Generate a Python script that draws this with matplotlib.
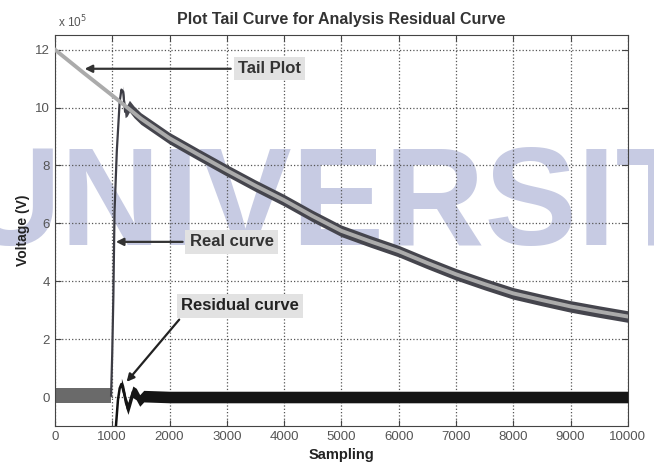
import numpy as np
import matplotlib.pyplot as plt

# values in units of 1e5 V
tail_x = [0, 500, 1000, 1500, 2000, 2500, 3000, 3500, 4000, 4500, 5000,
          5500, 6000, 6500, 7000, 7500, 8000, 8500, 9000, 9500, 10000]
tail_y = [12.0, 11.2, 10.42, 9.62, 8.94, 8.38, 7.83, 7.3, 6.8, 6.25, 5.74,
          5.38, 5.04, 4.63, 4.24, 3.9, 3.58, 3.35, 3.13, 2.95, 2.78]

# real curve: flat noise before the pulse, sharp rise, then decay
pre_x = [0, 500, 980]
pre_y = [0.05, 0.05, 0.05]
real_x = [980, 1000, 1020, 1040, 1080, 1130, 1160, 1190, 1225, 1260, 1300,
          1380, 1500, 2000, 2500, 3000, 3500, 4000, 4500, 5000, 5500, 6000,
          6500, 7000, 7500, 8000, 8500, 9000, 9500, 10000]
real_y = [0.05, 1.5, 3.5, 6.4, 8.5, 10.2, 10.62, 10.55, 9.85, 9.9, 10.05,
          9.85, 9.62, 8.94, 8.38, 7.83, 7.3, 6.8, 6.25, 5.74, 5.38, 5.04,
          4.63, 4.24, 3.9, 3.58, 3.35, 3.13, 2.95, 2.78]

resid_x = [1000, 1040, 1065, 1100, 1130, 1160, 1200, 1240, 1275, 1320, 1360,
           1420, 1480, 1550, 2000, 4000, 6000, 8000, 10000]
resid_y = [-10.4, -4.0, -1.0, -0.1, 0.3, 0.45, 0.2, -0.2, -0.4, -0.1, 0.18,
           0.1, -0.12, 0.03, 0.0, 0.0, 0.0, 0.0, 0.0]

# half width of the noise band around each curve
noise_pre = 0.25
noise_real = 0.2
noise_resid = 0.2

xticks = np.arange(0, 10001, 1000)
yticks = [0, 2, 4, 6, 8, 10, 12]

plt.rcParams['font.family'] = ['Liberation Sans', 'DejaVu Sans']

fig = plt.figure(figsize=(6.54, 4.63), dpi=100, facecolor='white')
ax = fig.add_axes([0.084, 0.080, 0.876, 0.844])
ax.patch.set_facecolor('none')

# faint watermark behind the plot
fig.text(-0.06, 0.471, 'UNIVERSITAS', fontsize=100, fontweight='bold',
         family=['Liberation Sans Narrow', 'Liberation Sans'], fontstretch='condensed',
         color='#c7cbe3', zorder=-1, va='baseline', ha='left')

pre_y = np.array(pre_y)
real_y = np.array(real_y)
resid_y = np.array(resid_y)

ax.fill_between(pre_x, pre_y - noise_pre, pre_y + noise_pre, color='#6a6a6a', lw=0, zorder=2)
ax.plot(pre_x, pre_y, color='#6a6a6a', lw=1, zorder=2)

ax.plot(real_x, real_y, color='#3c3c44', lw=1.6, zorder=3)
ax.fill_between(real_x[7:], real_y[7:] - noise_real, real_y[7:] + noise_real,
                color='#45454d', lw=0, zorder=3)

ax.plot(resid_x, resid_y, color='#111111', lw=1.8, zorder=4)
ax.fill_between(resid_x[5:], resid_y[5:] - noise_resid, resid_y[5:] + noise_resid,
                color='#151515', lw=0, zorder=4)

ax.plot(tail_x, tail_y, color='#ababab', lw=2.8, zorder=5)

ax.set_xlim(0, 10000)
ax.set_ylim(-1, 12.5)
ax.set_xticks(xticks)
ax.set_yticks(yticks)
ax.grid(True, linestyle=':', color='#555555', lw=0.9)
ax.tick_params(direction='in', top=True, right=True, labelsize=9.5,
               labelcolor='#555555', color='#444444', length=4)
for s in ax.spines.values():
    s.set_color('#444444')

ax.set_title('Plot Tail Curve for Analysis Residual Curve', fontsize=11.5,
             fontweight='bold', color='#333333', pad=8)
ax.set_xlabel('Sampling', fontsize=10.5, fontweight='bold', color='#222222', labelpad=4)
ax.set_ylabel('Voltage (V)', fontsize=10, fontweight='bold', color='#222222', labelpad=4)
ax.text(0.005, 1.012, r'x 10$^5$', transform=ax.transAxes, fontsize=8.5,
        color='#555555', va='bottom')

box = dict(boxstyle='square,pad=0.25', fc='#e2e2e2', ec='none')
arrow = dict(arrowstyle='-|>', color='#333333', lw=1.6, mutation_scale=11)
ax.annotate('Tail Plot', xy=(470, 11.34), xytext=(3190, 11.34), fontsize=12,
            fontweight='bold', color='#333333', va='center', bbox=box,
            arrowprops=arrow, zorder=6)
ax.annotate('Real curve', xy=(1015, 5.36), xytext=(2350, 5.36), fontsize=12,
            fontweight='bold', color='#333333', va='center', bbox=box,
            arrowprops=arrow, zorder=6)
ax.annotate('Residual curve', xy=(1220, 0.45), xytext=(2200, 3.15), fontsize=12,
            fontweight='bold', color='#222222', va='center', bbox=box,
            arrowprops=dict(arrowstyle='-|>', color='#222222', lw=1.6, mutation_scale=11,
                            relpos=(0.03, 0.0)), zorder=6)

fig.savefig('out.png', dpi=100)
